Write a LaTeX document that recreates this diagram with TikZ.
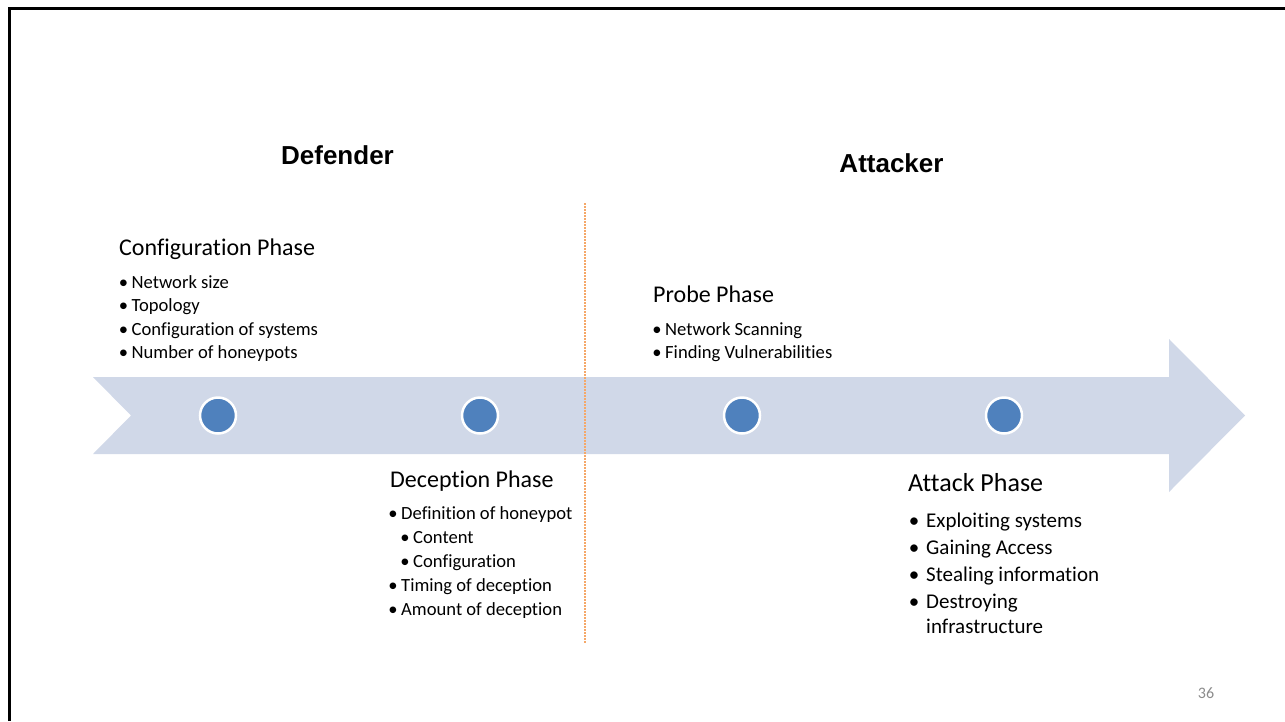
\documentclass[tikz,border=0pt]{standalone}
\usepackage{fontspec}
\setmainfont{Carlito}[Ligatures={NoCommon,NoRequired,NoContextual}]
\newfontfamily\headfont{Liberation Sans}

\definecolor{bandfill}{HTML}{D0D8E8}
\definecolor{stepdot}{HTML}{4F81BD}
\definecolor{splitline}{HTML}{F5A869}
\definecolor{pagenum}{HTML}{8C8C8C}

\newcommand{\phasesize}{\fontsize{24}{28}\selectfont}
\newcommand{\bigphasesize}{\fontsize{26}{30}\selectfont}
\newcommand{\itemsize}{\fontsize{18.6}{22}\selectfont}
\newcommand{\bigitemsize}{\fontsize{21}{25}\selectfont}

\tikzset{
  txt/.style={inner sep=0pt, anchor=base west, text=black},
  blt/.style={inner sep=0pt, anchor=base, text=black},
  role/.style={inner sep=0pt, anchor=center, font=\headfont\bfseries\fontsize{26}{30}\selectfont},
  stepdot/.style={circle, inner sep=0pt, minimum size=36pt, fill=stepdot, draw=white, line width=2.5pt},
  divider/.style={draw=splitline, line width=1.3pt, dash pattern=on 1.5pt off 1.5pt},
}

\begin{document}
\begin{tikzpicture}[x=1pt,y=-1pt]
\useasboundingbox (0,0) rectangle (1285,721);
\fill[white] (0,0) rectangle (1285,721);

% slide frame (left and top edges)
\draw[line width=3pt] (9.5,721) -- (9.5,8.5) -- (1285,8.5);

% timeline band with notched tail and arrow head
\fill[bandfill] (93,377) -- (1169,377) -- (1169,339) -- (1245,415.5)
  -- (1169,492) -- (1169,454) -- (93,454) -- (131,415.5) -- cycle;

% defender / attacker split
\coordinate (splittop) at (585,203);
\coordinate (splitbot) at (585,644);
\draw[divider] (splittop) -- (splitbot);

% phase markers
\node[stepdot] (d1) at (218,415.5) {};
\node[stepdot] (d2) at (480,415.5) {};
\node[stepdot] (d3) at (742,415.5) {};
\node[stepdot] (d4) at (1004,415.5) {};

% role titles
\node[role] (defender) at (337.5,155) {Defender};
\node[role] (attacker) at (891.5,163) {Attacker};

% configuration phase
\node[txt, font=\phasesize] (cfg) at (119,255.5) {Configuration Phase};
\foreach \y/\t [count=\i] in {288/Network size, 311.6/Topology, 335.2/Configuration of systems, 358.8/Number of honeypots}{
  \node[blt, font=\itemsize] (cfgb\i) at (123.5,\y) {•};
  \node[txt, font=\itemsize] (cfgt\i) at (131.5,\y) {\t};
}

% probe phase
\node[txt, font=\phasesize] (prb) at (653,302.5) {Probe Phase};
\foreach \y/\t [count=\i] in {335.2/Network Scanning, 358.8/Finding Vulnerabilities}{
  \node[blt, font=\itemsize] (prbb\i) at (657,\y) {•};
  \node[txt, font=\itemsize] (prbt\i) at (665,\y) {\t};
}

% deception phase
\node[txt, font=\phasesize] (dec) at (390,487.5) {Deception Phase};
\node[blt, font=\itemsize] (decb1) at (393,519) {•};
\node[txt, font=\itemsize] (dect1) at (401,519) {Definition of honeypot};
\node[blt, font=\itemsize] (decb2) at (405,543) {•};
\node[txt, font=\itemsize] (dect2) at (413,543) {Content};
\node[blt, font=\itemsize] (decb3) at (405,567) {•};
\node[txt, font=\itemsize] (dect3) at (413,567) {Configuration};
\node[blt, font=\itemsize] (decb4) at (393,591) {•};
\node[txt, font=\itemsize] (dect4) at (401,591) {Timing of deception};
\node[blt, font=\itemsize] (decb5) at (393,615) {•};
\node[txt, font=\itemsize] (dect5) at (401,615) {Amount of deception};

% attack phase
\node[txt, font=\bigphasesize] (atk) at (908,491) {Attack Phase};
\foreach \y/\t [count=\i] in {527/Exploiting systems, 554/Gaining Access, 581/Stealing information, 608/Destroying}{
  \node[blt, font=\bigitemsize] (atkb\i) at (914,\y) {•};
  \node[txt, font=\bigitemsize] (atkt\i) at (926,\y) {\t};
}
\node[txt, font=\bigitemsize] (atkt5) at (926,633) {infrastructure};

% slide number
\node[inner sep=0pt, anchor=center, text=pagenum, font=\fontsize{16}{18}\selectfont] (page) at (1206,693) {36};
\end{tikzpicture}
\end{document}
